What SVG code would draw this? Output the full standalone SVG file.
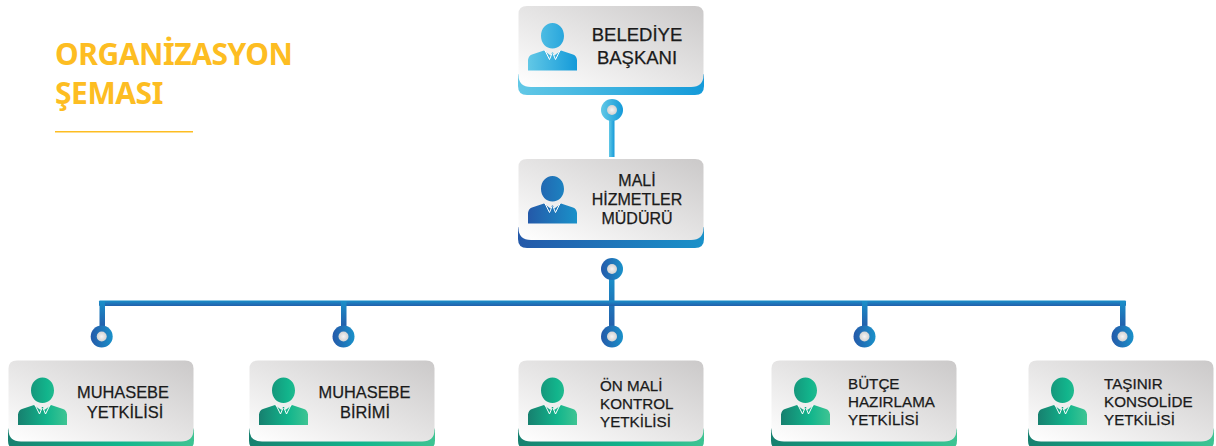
<svg xmlns="http://www.w3.org/2000/svg" width="1216" height="446" viewBox="0 0 1216 446">
<style>
.t{font-family:"Liberation Sans",Arial,sans-serif;font-size:15.2px;fill:#1a1a1a;text-anchor:middle;stroke:#1a1a1a;stroke-width:.25}
.s{text-anchor:start}
.b{font-size:18.5px}
.m{font-size:16px}
.n{font-size:16.4px}
.h{font-family:"Noto Sans","Open Sans",sans-serif;font-size:30px;font-weight:700;fill:#fdbd22;letter-spacing:-.45px}
.face{fill:url(#gf)}
.ring{fill:url(#gd)}
.dot{fill:url(#gc)}
.col{fill:none;stroke:#fff;stroke-width:1}
</style>
<defs>
<linearGradient id="gf" x1="0" y1="1" x2="1" y2="0"><stop offset="0" stop-color="#fff"/><stop offset="1" stop-color="#cbc9c9"/></linearGradient>
<radialGradient id="gc"><stop offset="0" stop-color="#f4f4f4"/><stop offset="1" stop-color="#d2d2d2"/></radialGradient>
<linearGradient id="gl"><stop offset="0" stop-color="#62c8e6"/><stop offset="1" stop-color="#149ad9"/></linearGradient>
<linearGradient id="gd"><stop offset="0" stop-color="#2459a9"/><stop offset="1" stop-color="#1a91c9"/></linearGradient>
<linearGradient id="gg"><stop offset="0" stop-color="#17806f"/><stop offset=".6" stop-color="#12b58c"/><stop offset="1" stop-color="#3fc493"/></linearGradient>
<linearGradient id="gv" x1="0" y1="0" x2="0" y2="1"><stop offset="0" stop-color="#1a8fc9"/><stop offset="1" stop-color="#2360ac"/></linearGradient>
<path id="card" d="M.5 68L0 70V80Q0 89 9 89H177Q186 89 186 80V70L185.500 68Z"/>
<path id="fc" class="face" d="M.5 8Q.5 0 9 0H177Q185.500 0 185.500 8V69Q185.500 81 173 81H13Q.5 81 .5 69Z"/>
<path id="pe" d="M34.500 17C41 17 46 22.500 46 30C46 37 41 42.500 34.500 42.500C28 42.500 23 37 23 30C23 22.500 28 17 34.500 17ZM26 44.500L32.500 49.500L34 46.500L35 46.500L36.500 49.500L43 44.500L55 48.500C57.500 49.500 58.500 51 59 54L59 64.500L10 64.500L10 54C10.500 51 11.500 49.500 14 48.500Z"/>
<path id="cl" class="col" d="M27 44.500L31.500 53.500L34 47.500M42 44.500L37.500 53.500L35 47.500"/>
</defs>
<g id="title">
<text class="h" x="55" y="65">ORGANİZASYON</text>
<text class="h" x="55" y="103.500">ŞEMASI</text>
<rect x="55" y="131" width="138" height="1.500" fill="#fdbd22"/>
</g>
<g id="connectors">
<rect x="609" y="120" width="5.500" height="37" fill="url(#gl)"/>
<rect x="609" y="278" width="5.500" height="48" fill="url(#gv)"/>
<rect x="99" y="300.500" width="1027" height="5.500" rx="1" fill="url(#gv)"/>
<rect x="99.500" y="301" width="5.500" height="25" fill="url(#gv)"/>
<rect x="341" y="301" width="5.500" height="25" fill="url(#gv)"/>
<rect x="862" y="301" width="5.500" height="25" fill="url(#gv)"/>
<rect x="1120" y="301" width="5.500" height="25" fill="url(#gv)"/>
<circle cx="612" cy="110" r="11" fill="url(#gl)"/><circle class="dot" cx="612" cy="110" r="5"/>
<circle class="ring" cx="612" cy="269" r="11"/><circle class="dot" cx="612" cy="269" r="5"/>
<circle class="ring" cx="612" cy="336.500" r="11"/><circle class="dot" cx="612" cy="336.500" r="5"/>
<circle class="ring" cx="101.700" cy="336.500" r="11"/><circle class="dot" cx="101.700" cy="336.500" r="5"/>
<circle class="ring" cx="343.500" cy="336.500" r="11"/><circle class="dot" cx="343.500" cy="336.500" r="5"/>
<circle class="ring" cx="864.500" cy="336.500" r="11"/><circle class="dot" cx="864.500" cy="336.500" r="5"/>
<circle class="ring" cx="1122.500" cy="336.500" r="11"/><circle class="dot" cx="1122.500" cy="336.500" r="5"/>
</g>
<g id="n1" transform="translate(518 6)">
<use href="#card" fill="url(#gl)"/><use href="#fc"/><use href="#pe" fill="url(#gl)"/><use href="#cl"/>
<text class="t b" x="119" y="35">BELEDİYE</text><text class="t b" x="119" y="57.500">BAŞKANI</text>
</g>
<g id="n2" transform="translate(518 159)">
<use href="#card" fill="url(#gd)"/><use href="#fc"/><use href="#pe" fill="url(#gd)"/><use href="#cl"/>
<text class="t m" x="119" y="27">MALİ</text><text class="t m" x="119" y="46">HİZMETLER</text><text class="t m" x="119" y="65">MÜDÜRÜ</text>
</g>
<g id="n3" transform="translate(8 360.500)">
<use href="#card" fill="url(#gg)"/><use href="#fc"/><use href="#pe" fill="url(#gg)"/><use href="#cl"/>
<text class="t n" x="115" y="37.500">MUHASEBE</text><text class="t n" x="117" y="57.500">YETKİLİSİ</text>
</g>
<g id="n4" transform="translate(249 360.500)">
<use href="#card" fill="url(#gg)"/><use href="#fc"/><use href="#pe" fill="url(#gg)"/><use href="#cl"/>
<text class="t n" x="115.500" y="37.500">MUHASEBE</text><text class="t n" x="116" y="57.500">BİRİMİ</text>
</g>
<g id="n5" transform="translate(518 360.500)">
<use href="#card" fill="url(#gg)"/><use href="#fc"/><use href="#pe" fill="url(#gg)"/><use href="#cl"/>
<text class="t s" x="82" y="30">ÖN MALİ</text><text class="t s" x="82" y="48">KONTROL</text><text class="t s" x="82" y="66">YETKİLİSİ</text>
</g>
<g id="n6" transform="translate(771 360.500)">
<use href="#card" fill="url(#gg)"/><use href="#fc"/><use href="#pe" fill="url(#gg)"/><use href="#cl"/>
<text class="t s" x="77" y="28">BÜTÇE</text><text class="t s" x="77" y="46">HAZIRLAMA</text><text class="t s" x="77" y="64">YETKİLİSİ</text>
</g>
<g id="n7" transform="translate(1028 360.500)">
<use href="#card" fill="url(#gg)"/><use href="#fc"/><use href="#pe" fill="url(#gg)"/><use href="#cl"/>
<text class="t s" x="76" y="28">TAŞINIR</text><text class="t s" x="76" y="46">KONSOLİDE</text><text class="t s" x="76" y="64">YETKİLİSİ</text>
</g>
</svg>
